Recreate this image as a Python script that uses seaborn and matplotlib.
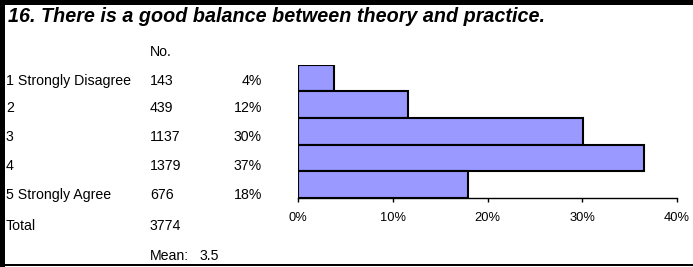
import matplotlib as mpl
mpl.use("Agg")
import matplotlib.pyplot as plt
import matplotlib.patches as mpatches
from matplotlib.ticker import PercentFormatter
import seaborn as sns
import numpy as np
import pandas as pd

title = "16. There is a good balance between theory and practice."
categories = ["1 Strongly Disagree", "2", "3", "4", "5 Strongly Agree"]
scores = [1, 2, 3, 4, 5]
counts = [143, 439, 1137, 1379, 676]
xticks = [0, 10, 20, 30, 40]

total = sum(counts)
pct = [c / total * 100 for c in counts]
mean = sum(s * c for s, c in zip(scores, counts)) / total

df = pd.DataFrame({"cat": categories, "pct": pct})

sns.set_style("white")
plt.rcParams["font.family"] = ["Liberation Sans", "DejaVu Sans"]
plt.rcParams["text.color"] = "black"
plt.rcParams["xtick.color"] = "black"

W, H = 693, 267
fig = plt.figure(figsize=(W / 100, H / 100), dpi=100)


def fx(x):
    return x / W


def fy(y):
    return 1 - y / H


# frame like the spreadsheet block
fig.patches.append(mpatches.Rectangle((0, fy(4.5)), 1, 4.5 / H, transform=fig.transFigure,
                                      facecolor="black", edgecolor="none"))
fig.patches.append(mpatches.Rectangle((0, 0), 5 / W, 1, transform=fig.transFigure,
                                      facecolor="black", edgecolor="none"))
fig.patches.append(mpatches.Rectangle((0, fy(266)), 1, 2 / H, transform=fig.transFigure,
                                      facecolor="black", edgecolor="none"))

fig.text(fx(8), fy(17), title, fontsize=14.2, fontweight="bold", fontstyle="italic",
         va="center", ha="left", color="black")

fs = 10.2
fig.text(fx(150), fy(52), "No.", fontsize=fs, va="center")
rows_y = [81, 108, 137, 166, 195]
for y, cat, c, p in zip(rows_y, categories, counts, pct):
    fig.text(fx(6), fy(y), cat, fontsize=fs, va="center")
    fig.text(fx(150), fy(y), str(c), fontsize=fs, va="center")
    fig.text(fx(262), fy(y), f"{p:.0f}%", fontsize=fs, va="center", ha="right")
fig.text(fx(6), fy(226), "Total", fontsize=fs, va="center")
fig.text(fx(150), fy(226), str(total), fontsize=fs, va="center")
fig.text(fx(150), fy(256), "Mean:", fontsize=fs, va="center")
fig.text(fx(200), fy(256), f"{mean:.1f}", fontsize=fs, va="center")

ax = fig.add_axes([fx(298), fy(198), (677 - 298) / W, (198 - 64.5) / H])
sns.barplot(data=df, x="pct", y="cat", orient="h", color="#9999FF", saturation=1,
            edgecolor="black", linewidth=1.5, width=1.0, ax=ax)
ax.set_xlim(0, 40)
ax.set_xticks(xticks)
ax.xaxis.set_major_formatter(PercentFormatter(decimals=0))
ax.set_yticks([])
ax.set_xlabel("")
ax.set_ylabel("")
for s in ["top", "right", "left"]:
    ax.spines[s].set_visible(False)
ax.spines["bottom"].set_color("black")
ax.spines["bottom"].set_linewidth(1.0)
ax.tick_params(axis="x", direction="out", length=3, width=1, color="black",
               pad=7, labelsize=9.3, labelcolor="black", bottom=True)

fig.savefig("out.png", dpi=100)
